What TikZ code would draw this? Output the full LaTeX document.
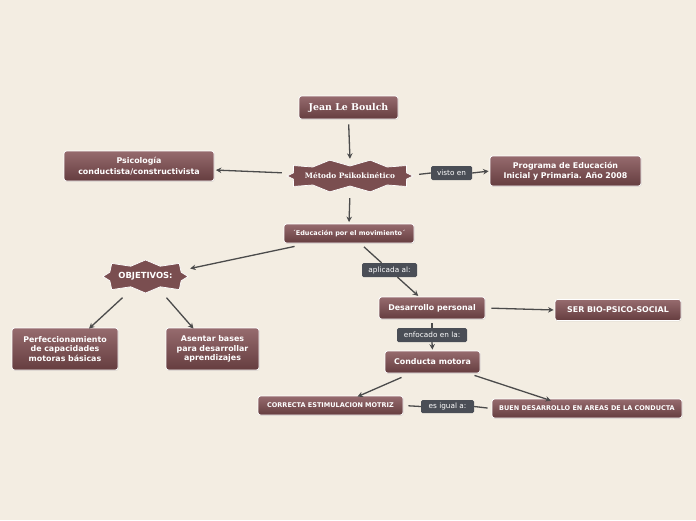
\documentclass[tikz,border=0pt]{standalone}
\usepackage{fontspec}
\newfontfamily\vfont{DejaVu Sans}
\newfontfamily\gfont{DejaVu Serif}
\usetikzlibrary{calc,shadows,arrows.meta}
\definecolor{bg}{HTML}{F3EDE2}
\definecolor{boxtop}{HTML}{966B6E}
\definecolor{boxbot}{HTML}{653D3F}
\definecolor{burstfill}{HTML}{7A4E50}
\definecolor{lblfill}{HTML}{4A4E56}
\definecolor{linec}{HTML}{4B4B4B}
% #1 centre, #2 rx, #3 ry, #4 spike depth, #5 number of spikes per half
\newcommand\burstshape[5]{%
  \fill[burstfill,draw=white,line width=0.7pt] ($(#1)+(#2,0)$)
  \foreach \k in {1,...,\the\numexpr2*#5-1\relax} {
    -- ($(#1)+({(isodd(\k)?#2-#4:#2)*cos(\k*180/#5)*(abs(cos(\k*180/#5))^3+abs(sin(\k*180/#5))^3)^(-0.3333)},
                {(isodd(\k)?#3-#4:#3)*sin(\k*180/#5)*(abs(cos(\k*180/#5))^3+abs(sin(\k*180/#5))^3)^(-0.3333)})$)
  } -- cycle;}
\tikzset{
  box/.style={draw=white, line width=0.8pt, rounded corners=2.5pt, top color=boxtop, bottom color=boxbot,
    text=white, font=\vfont\bfseries\fontsize{7.9}{10.5}\selectfont, align=center, inner sep=2pt,
    drop shadow={opacity=0.2, shadow xshift=0.6pt, shadow yshift=-0.8pt}},
  smallbox/.style={box, font=\vfont\bfseries\fontsize{6.5}{8}\selectfont},
  bursttext/.style={text=white, align=center, inner sep=0pt},
  lbl/.style={fill=lblfill, rounded corners=1.5pt, text=white, font=\vfont\fontsize{7.3}{8}\selectfont, inner sep=1pt, minimum height=14pt},
  ln/.style={draw=linec, line width=1.3pt},
  arr/.style={ln, -{Stealth[length=5.5pt,width=5.5pt]}},
}
\begin{document}
\begin{tikzpicture}[x=1pt,y=-1pt]
\fill[bg] (0,0) rectangle (696,520);
\useasboundingbox (0,0) rectangle (696,520);

% nodes
\node[box, minimum width=99pt, minimum height=23pt, font=\gfont\bfseries\fontsize{9.4}{11}\selectfont] (jean) at (348.5,107.5) {Jean Le Boulch};

\coordinate (mc) at (350,176);
\burstshape{mc}{63}{16}{6}{10}
\node[bursttext, minimum width=126pt, minimum height=32pt, font=\gfont\bfseries\fontsize{7.4}{9}\selectfont] (met) at (mc) {Método Psikokinético};

\node[box, minimum width=150pt, minimum height=30pt] (psi) at (139,166) {Psicología\\conductista/constructivista};
\node[box, minimum width=151pt, minimum height=30pt] (prog) at (565.5,171) {Programa de Educación\\Inicial y Primaria. Año 2008};
\node[lbl, minimum width=41pt] (visto) at (451.5,173) {visto en};

\node[smallbox, minimum width=130pt, minimum height=19pt] (edu) at (349,233.5) {´Educación por el movimiento´};

\coordinate (oc) at (145.5,276.5);
\burstshape{oc}{42.5}{16.5}{6}{8}
\node[bursttext, minimum width=85pt, minimum height=33pt, font=\vfont\bfseries\fontsize{8.4}{9}\selectfont] (obj) at (oc) {OBJETIVOS:};

\node[lbl, minimum width=55pt] (apl) at (389.5,270) {aplicada al:};

\node[box, minimum width=106pt, minimum height=22pt] (des) at (432,308) {Desarrollo personal};
\node[box, minimum width=126pt, minimum height=21pt] (ser) at (618,310) {SER BIO-PSICO-SOCIAL};
\node[lbl, minimum width=70pt] (enf) at (432,335) {enfocado en la:};
\node[box, minimum width=95pt, minimum height=22pt] (con) at (432.5,362) {Conducta motora};

\node[box, minimum width=106pt, minimum height=42pt, text width=100pt, font=\vfont\bfseries\fontsize{7.9}{9.3}\selectfont] (perf) at (65,349) {Perfeccionamiento\\de capacidades\\motoras básicas};
\node[box, minimum width=93pt, minimum height=42pt, text width=88pt, font=\vfont\bfseries\fontsize{7.9}{9.3}\selectfont] (ase) at (212.5,349) {Asentar bases\\para desarrollar\\aprendizajes};

\node[smallbox, minimum width=145pt, minimum height=19pt] (cor) at (330.5,405.5) {CORRECTA ESTIMULACION MOTRIZ};
\node[lbl, minimum width=53pt, minimum height=13pt] (es) at (447.5,406.5) {es igual a:};
\node[smallbox, minimum width=190pt, minimum height=19pt] (buen) at (587,408.5) {BUEN DESARROLLO EN AREAS DE LA CONDUCTA};

% connectors
\draw[arr, shorten <=5pt, shorten >=1pt] (jean.south) -- (met.north);
\draw[arr, shorten <=5pt, shorten >=1.5pt] ([yshift=3pt]met.west) -- ([yshift=-4pt]psi.east);
\draw[ln, shorten <=6pt] ([yshift=1pt]met.east) -- (visto.west);
\draw[arr, shorten >=1pt] (visto.east) -- (prog.west);
\draw[arr, shorten <=6pt, shorten >=1.5pt] (met.south) -- (edu.north);
\draw[arr] ([xshift=11pt,yshift=-3pt]edu.south west) -- ([xshift=2pt,yshift=8pt]obj.east);
\draw[ln] ([xshift=15pt,yshift=-3.5pt]edu.south) -- (apl);
\draw[arr, shorten >=1pt] (apl) -- ([xshift=-13pt]des.north);
\draw[arr] ([xshift=-23pt,yshift=-4.5pt]obj.south) -- ([xshift=24pt,yshift=-1pt]perf.north);
\draw[arr] ([xshift=21pt,yshift=-4.5pt]obj.south) -- ([xshift=-19pt,yshift=-1pt]ase.north);
\draw[arr, shorten <=6pt, shorten >=1pt] (des.east) -- (ser.west);
\draw[ln, shorten <=4pt] (des.south) -- (enf.north);
\draw[arr, shorten >=1pt] (enf.south) -- (con.north);
\draw[arr] ([xshift=-31pt,yshift=-4pt]con.south) -- ([xshift=27pt,yshift=-1pt]cor.north);
\draw[arr] ([xshift=42pt,yshift=-2pt]con.south) -- ([xshift=-36pt,yshift=-2pt]buen.north);
\draw[ln, shorten <=5pt] (cor.east) -- (es.west);
\draw[ln, shorten >=4pt] (es.east) -- (buen.west);
\end{tikzpicture}
\end{document}
